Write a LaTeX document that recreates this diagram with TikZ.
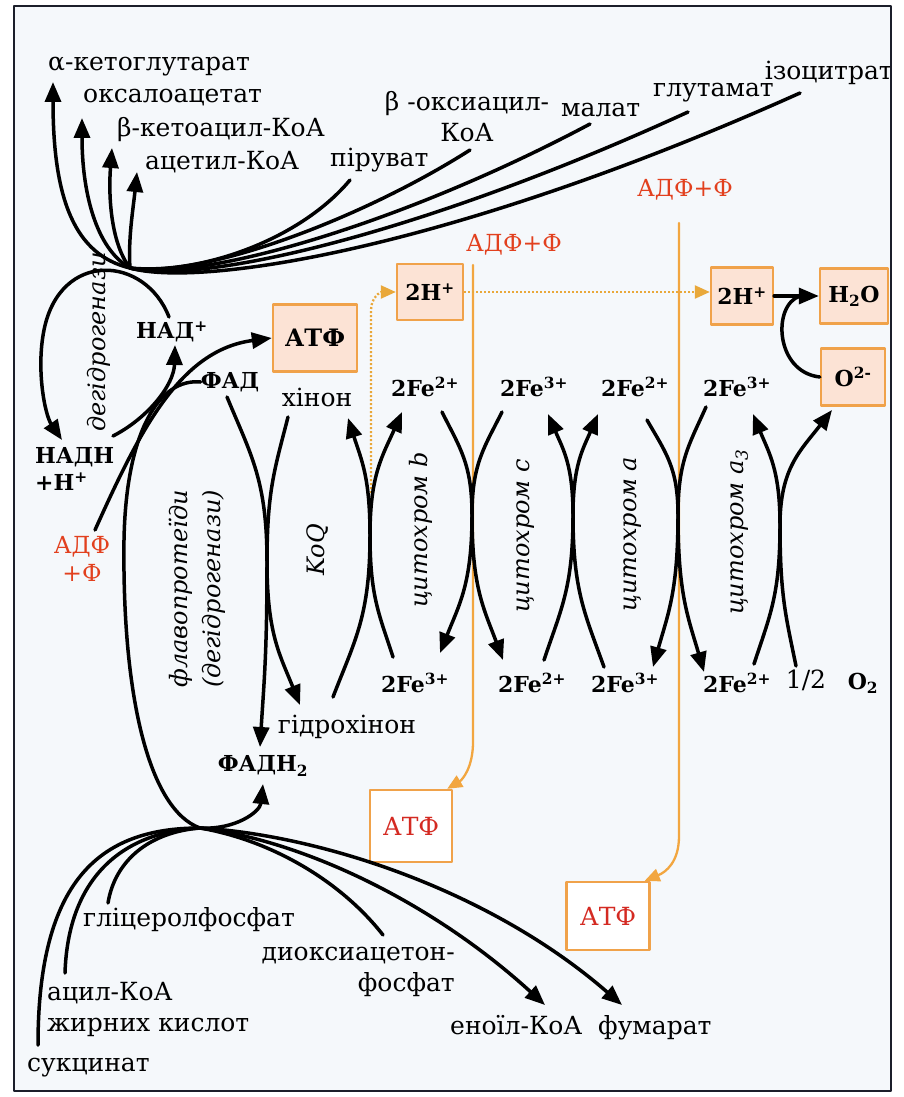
\documentclass[tikz,border=0pt]{standalone}
\usepackage{fontspec}
\setmainfont{DejaVu Serif}
\usetikzlibrary{arrows.meta}
\definecolor{frameink}{HTML}{1B1E2A}
\definecolor{paper}{HTML}{F5F8FB}
\definecolor{boxline}{HTML}{F0A24A}
\definecolor{boxfill}{HTML}{FCE3D5}
\definecolor{adpred}{HTML}{E2401E}
\definecolor{atpred}{HTML}{D42A22}
\definecolor{wire}{HTML}{F2A640}
\definecolor{dotwire}{HTML}{E9A83A}
\begin{document}
\begin{tikzpicture}[x=1pt,y=-1pt,line cap=round,line join=round,
  txt/.style={inner sep=0pt,font=\fontsize{25}{31}\selectfont},
  btxt/.style={inner sep=0pt,font=\bfseries\fontsize{22}{27}\selectfont},
  itxt/.style={inner sep=0pt,rotate=90,font=\itshape\fontsize{24}{33}\selectfont},
  rtxt/.style={inner sep=0pt,text=adpred,font=\fontsize{23.5}{28}\selectfont},
  hbox/.style={draw=boxline,fill=boxfill,line width=2.4pt,inner sep=0pt,font=\bfseries\fontsize{22}{24}\selectfont},
  abox/.style={draw=boxline,fill=white,line width=2.4pt,inner sep=0pt,text=atpred,font=\fontsize{25}{26}\selectfont},
  flow/.style={draw=black,line width=3.5pt},
  flowtip/.style={flow,-{Triangle[length=20pt,width=16pt]}},
  owire/.style={draw=wire,line width=2.3pt},
  owiretip/.style={owire,-{Triangle[length=15pt,width=13pt]}},
  dwire/.style={draw=dotwire,line width=2.3pt,line cap=butt,dash pattern=on 2pt off 2pt,-{Triangle[length=15pt,width=13pt]}},
]
\useasboundingbox (0,0) rectangle (904,1097);
\fill[white] (0,0) rectangle (904,1097);
\fill[paper] (14,6) rectangle (891,1091);

% ---------- substrates and products at the top ----------
\node[txt,anchor=west] (akg) at (48,67) {α-кетоглутарат};
\node[txt,anchor=west] (oxa) at (83,98) {оксалоацетат};
\node[txt,anchor=west] (bka) at (117,130) {β-кетоацил-КоА};
\node[txt,anchor=west] (acoa) at (145,162) {ацетил-КоА};
\node[txt,anchor=west] (pyr) at (330,160) {піруват};
\node[txt,align=center] (boa) at (467,117) {β -оксиацил-\\КоА};
\node[txt,anchor=west] (mal) at (561,110) {малат};
\node[txt,anchor=west] (glu) at (653,93) {глутамат};
\node[txt,anchor=east] (iso) at (893,73) {ізоцитрат};

% ---------- phosphorylation labels ----------
\node[rtxt] (adp2) at (685,190) {АДФ+Ф};
\node[rtxt] (adp1) at (514,245) {АДФ+Ф};
\node[rtxt,align=center] (adp0) at (82,559) {АДФ\\+Ф};

% ---------- boxes ----------
\node[hbox,minimum width=66pt,minimum height=56pt] (hp1) at (430,292) {2H\textsuperscript{+}};
\node[hbox,minimum width=62pt,minimum height=57pt] (hp2) at (742,296) {2H\textsuperscript{+}};
\node[hbox,minimum width=68pt,minimum height=55pt] (water) at (854,296) {H\textsubscript{2}O};
\node[hbox,minimum width=64pt,minimum height=57pt] (oxy) at (853,377) {O\textsuperscript{2-}};
\node[hbox,minimum width=84pt,minimum height=67pt,font=\bfseries\fontsize{24}{26}\selectfont] (atp0) at (315,338) {АТФ};
\node[abox,minimum width=82pt,minimum height=72pt] (atp1) at (411,826) {АТФ};
\node[abox,minimum width=83pt,minimum height=68pt] (atp2) at (608,916) {АТФ};

% ---------- carriers ----------
\node[btxt] (nad) at (172,332) {НАД\textsuperscript{+}};
\node[btxt] (fad) at (230,382) {ФАД};
\node[btxt,align=left,anchor=west] (nadh) at (35,469) {НАДН\\+Н\textsuperscript{+}};
\node[btxt] (fadh) at (263,766) {ФАДН\textsubscript{2}};
\node[txt] (quin) at (317,397) {хінон};
\node[txt] (hquin) at (347,727) {гідрохінон};
\node[btxt] (feA) at (425,387) {2Fe\textsuperscript{2+}};
\node[btxt] (feB) at (534,387) {2Fe\textsuperscript{3+}};
\node[btxt] (feC) at (635,387) {2Fe\textsuperscript{2+}};
\node[btxt] (feD) at (737,387) {2Fe\textsuperscript{3+}};
\node[btxt] (feE) at (415,683) {2Fe\textsuperscript{3+}};
\node[btxt] (feF) at (532,683) {2Fe\textsuperscript{2+}};
\node[btxt] (feG) at (625,683) {2Fe\textsuperscript{3+}};
\node[btxt] (feH) at (737,683) {2Fe\textsuperscript{2+}};
\node[txt] (half) at (806,680) {1/2};
\node[btxt] (dioxy) at (863,683) {O\textsubscript{2}};

% ---------- enzyme names ----------
\node[itxt] (dehyd) at (99,342) {дегідрогенази};
\node[itxt,align=center] (flavo) at (197,589) {флавопротеїди\\(дегідрогенази)};
\node[itxt] (koq) at (318,550) {KoQ};
\node[itxt] (cytb) at (421,530) {цитохром b};
\node[itxt] (cytc) at (526,536) {цитохром c};
\node[itxt] (cyta) at (633,534) {цитохром a};
\node[itxt] (cyta3) at (740,532) {цитохром a\textsubscript{3}};

% ---------- substrates at the bottom ----------
\node[txt,anchor=west] (glyc) at (83,920) {гліцеролфосфат};
\node[txt,align=right,anchor=east] (dhap) at (455,972) {диоксиацетон-\\фосфат};
\node[txt,align=left,anchor=west] (acyl) at (47,1009) {ацил-КоА\\жирних кислот};
\node[txt,anchor=west] (succ) at (27,1068) {сукцинат};
\node[txt,anchor=west] (enoyl) at (450,1025) {еноїл-КоА};
\node[txt,anchor=west] (fum) at (598,1028) {фумарат};

% ---------- junction points and free ends ----------
\coordinate (hubT) at (130,268);
\coordinate (hubB) at (200,828);
\coordinate (akgIn) at (53,82);
\coordinate (oxaIn) at (82,118);
\coordinate (bkaIn) at (112,148);
\coordinate (acoaIn) at (137,172);
\coordinate (pyrOut) at (350,180);
\coordinate (boaOut) at (470,150);
\coordinate (malOut) at (590,124);
\coordinate (gluOut) at (688,112);
\coordinate (isoOut) at (800,93);
\coordinate (nadOut) at (169,317);
\coordinate (nadIn) at (175,345);
\coordinate (nadhIn) at (62,440);
\coordinate (nadhOut) at (113,436);
\coordinate (adpOut) at (95,530);
\coordinate (fadhIn) at (263,784);
\coordinate (succOut) at (38,1045);
\coordinate (acylOut) at (65,973);
\coordinate (glycOut) at (108,903);
\coordinate (dhapOut) at (383,935);
\coordinate (enoylIn) at (545,1005);
\coordinate (fumIn) at (622,1005);
\coordinate (wireA) at (473,265);
\coordinate (wireB) at (679,223);
\coordinate (dotStart) at (371,493);
\coordinate (joinW) at (800,296);

% ---------- orange phosphorylation wires ----------
\draw[owiretip] (wireA) -- (473,742) .. controls (473,768) and (462,780) .. ([xshift=-6pt]atp1.north east);
\draw[owiretip] (wireB) -- (679,836) .. controls (679,862) and (666,872) .. ([xshift=-6pt]atp2.north east);
\draw[dwire] (dotStart) -- (371,310) .. controls (371,298) and (380,292) .. (hp1.west);
\draw[dwire] (hp1.east) -- (hp1.east -| hp2.west);

% ---------- fan of substrates at the top ----------
\draw[flowtip] (hubT) .. controls (75,255) and (53,200) .. (akgIn);
\draw[flowtip] (hubT) .. controls (95,248) and (82,190) .. (oxaIn);
\draw[flowtip] (hubT) .. controls (112,245) and (108,200) .. (bkaIn);
\draw[flowtip] (hubT) .. controls (128,240) and (133,210) .. (acoaIn);
\draw[flow] (isoOut) .. controls (450,250) and (200,288) .. (hubT);
\draw[flow] (gluOut) .. controls (420,235) and (200,285) .. (hubT);
\draw[flow] (malOut) .. controls (400,225) and (200,282) .. (hubT);
\draw[flow] (boaOut) .. controls (360,220) and (200,279) .. (hubT);
\draw[flow] (pyrOut) .. controls (300,240) and (200,275) .. (hubT);

% ---------- NAD loop ----------
\draw[flowtip] (nadOut) .. controls (145,255) and (60,250) .. (44,330)
  .. controls (36,370) and (45,415) .. (nadhIn);
\draw[flowtip] (nadhOut) .. controls (148,418) and (174,385) .. (nadIn);
\draw[flowtip] (adpOut) .. controls (140,430) and (180,350) .. (atp0.west);

% ---------- flavoprotein loop ----------
\draw[flow] (fad.west) .. controls (160,378) and (126,430) .. (124,540)
  .. controls (122,700) and (150,810) .. (hubB);
\draw[flowtip] (hubB) .. controls (235,830) and (260,812) .. (fadhIn);

% ---------- substrates at the bottom ----------
\draw[flow] (succOut) .. controls (38,880) and (100,828) .. (hubB);
\draw[flow] (acylOut) .. controls (68,880) and (120,832) .. (hubB);
\draw[flow] (glycOut) .. controls (115,860) and (150,832) .. (hubB);
\draw[flow] (hubB) .. controls (270,840) and (340,880) .. (dhapOut);
\draw[flowtip] (hubB) .. controls (300,840) and (430,900) .. (enoylIn);
\draw[flowtip] (hubB) .. controls (320,835) and (490,890) .. (fumIn);

% ---------- electron transfer arcs ----------
\draw[flowtip] (227,397) .. controls (251,455) and (267,480) .. (267,562)
  .. controls (267,654) and (264,682) .. (260,747);
\draw[flowtip] (288,417) .. controls (275,468) and (267,490) .. (267,562)
  .. controls (267,634) and (280,655) .. (300,705);
\draw[flowtip] (333,697) .. controls (355,640) and (370,616) .. (370,535)
  .. controls (370,476) and (361,459) .. (348,418);
\draw[flowtip] (393,657) .. controls (379,614) and (370,596) .. (370,535)
  .. controls (370,474) and (383,455) .. (402,412);
\draw[flowtip] (442,412) .. controls (460,448) and (472,464) .. (472,515)
  .. controls (472,584) and (459,605) .. (440,653);
\draw[flowtip] (502,412) .. controls (484,448) and (472,464) .. (472,515)
  .. controls (472,588) and (484,609) .. (503,660);
\draw[flowtip] (544,660) .. controls (561,609) and (573,588) .. (573,515)
  .. controls (573,465) and (563,449) .. (548,414);
\draw[flowtip] (604,667) .. controls (585,614) and (573,591) .. (573,515)
  .. controls (573,465) and (583,449) .. (598,414);
\draw[flowtip] (647,420) .. controls (666,453) and (678,468) .. (678,515)
  .. controls (678,591) and (668,614) .. (653,667);
\draw[flowtip] (706,407) .. controls (689,445) and (678,461) .. (678,515)
  .. controls (678,594) and (688,617) .. (704,672);
\draw[flowtip] (754,664) .. controls (770,615) and (780,595) .. (780,525)
  .. controls (780,470) and (769,453) .. (753,414);
\draw[flowtip] (796,666) .. controls (786,617) and (780,596) .. (780,525)
  .. controls (780,468) and (801,450) .. (832,410);

% ---------- water formation ----------
\draw[flowtip] (hp2.east) -- (water.west);
\draw[flow] (oxy.west) .. controls (775,372) and (772,305) .. (joinW);

\draw[frameink,line width=2.2pt] (14,6) rectangle (891,1091);
\end{tikzpicture}
\end{document}
